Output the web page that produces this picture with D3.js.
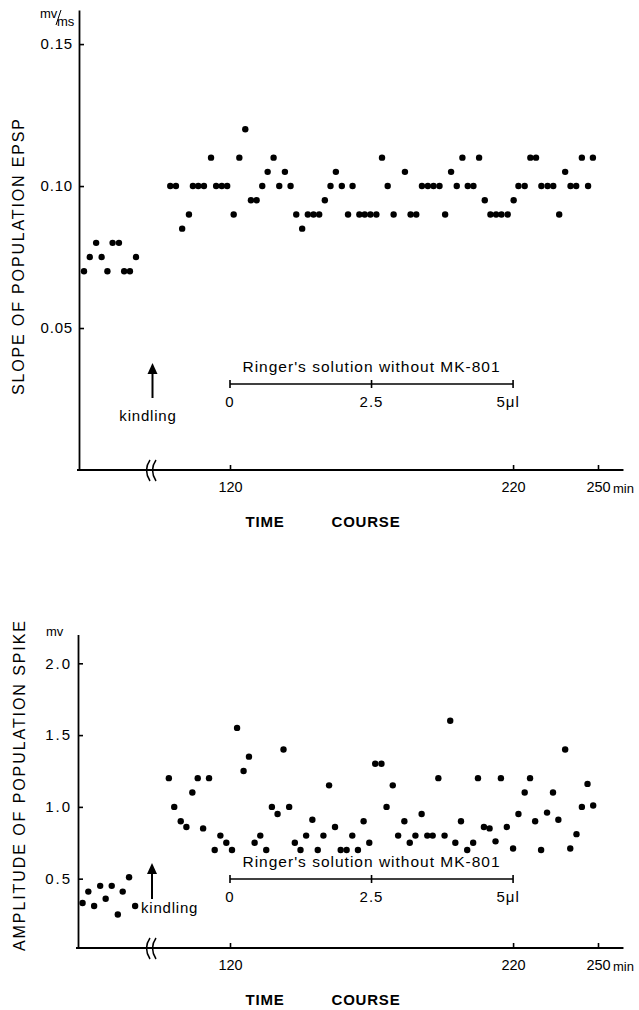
<!DOCTYPE html>
<html>
<head>
<meta charset="utf-8">
<script src="https://cdn.jsdelivr.net/npm/d3@7"></script>
<style>
  html, body { margin: 0; padding: 0; background: #fff; }
  svg { display: block; }
  text { font-family: "Liberation Sans", Arial, sans-serif; fill: #000; }
</style>
</head>
<body>
<script>
// ---- Data: slope of population EPSP (mV/ms) ----
const preTimesTop = [0, 2, 4.2, 6.1, 8.1, 9.9, 12.1, 13.9, 15.9, 18];
const preSlope    = [0.07, 0.075, 0.08, 0.075, 0.07, 0.08, 0.08, 0.07, 0.07, 0.075];

const postTimesTop = [98.9, 100.9, 103.1, 105.5, 106.9, 108.8, 110.8, 113.3, 115.1, 117.1,
  119.0, 121.3, 123.3, 125.4, 127.4, 129.4, 131.4, 133.3, 135.4, 137.4,
  139.4, 141.4, 143.4, 145.5, 147.5, 149.5, 151.5, 153.5, 155.5, 157.4,
  159.5, 161.7, 163.3, 165.7, 167.6, 169.6, 171.7, 173.7, 175.7, 177.8,
  181.8, 183.8, 185.8, 187.8, 189.9, 191.9, 194.0, 196.0, 198.1, 200.1,
  202.1, 204.0, 206.0, 208.0, 210.0, 212.0, 214.0, 215.9, 218.1, 220.2,
  221.9, 224.1, 226.1, 228.1, 230.0, 232.2, 234.2, 236.3, 238.4, 240.3,
  242.3, 244.3, 246.5, 248.2];
const postSlope = [0.10, 0.10, 0.085, 0.09, 0.10, 0.10, 0.10, 0.11, 0.10, 0.10,
  0.10, 0.09, 0.11, 0.12, 0.095, 0.095, 0.10, 0.105, 0.11, 0.10,
  0.105, 0.10, 0.09, 0.085, 0.09, 0.09, 0.09, 0.095, 0.10, 0.105,
  0.10, 0.09, 0.10, 0.09, 0.09, 0.09, 0.09, 0.11, 0.10, 0.09,
  0.105, 0.09, 0.09, 0.10, 0.10, 0.10, 0.10, 0.09, 0.105, 0.10,
  0.11, 0.10, 0.10, 0.11, 0.095, 0.09, 0.09, 0.09, 0.09, 0.095,
  0.10, 0.10, 0.11, 0.11, 0.10, 0.10, 0.10, 0.09, 0.105, 0.10,
  0.10, 0.11, 0.10, 0.11];

// ---- Data: amplitude of population spike (mV) ----
const preTimesBottom = [-0.5, 1.5, 3.5, 5.6, 7.5, 9.6, 11.7, 13.4, 15.6, 17.7];
const preAmp         = [0.33, 0.41, 0.31, 0.45, 0.36, 0.45, 0.25, 0.41, 0.51, 0.31];

const postTimesBottom = [98.4, 100.3, 102.6, 104.6, 106.7, 108.6, 110.5, 112.6, 114.6, 116.6,
  118.7, 120.7, 122.5, 124.8, 126.7, 128.7, 130.7, 132.8, 134.8, 136.8,
  138.9, 140.9, 142.9, 144.9, 146.9, 149.1, 151.0, 153.0, 155.0, 157.1,
  159.1, 161.2, 163.2, 165.2, 167.2, 169.2, 171.3, 173.5, 175.3, 177.5,
  179.4, 181.6, 183.5, 185.5, 187.7, 189.7, 191.6, 193.6, 195.8, 197.8,
  199.6, 201.6, 203.8, 205.9, 207.6, 209.7, 211.7, 213.8, 215.7, 217.8,
  220.0, 221.9, 224.1, 226.0, 227.8, 229.9, 232.0, 234.1, 236.0, 238.4,
  240.2, 242.4, 244.3, 246.3, 248.3];
const postAmp = [1.2, 1.0, 0.9, 0.86, 1.1, 1.2, 0.85, 1.2, 0.7, 0.8,
  0.75, 0.7, 1.55, 1.25, 1.35, 0.75, 0.8, 0.7, 1.0, 0.95,
  1.4, 1.0, 0.75, 0.7, 0.8, 0.91, 0.7, 0.8, 1.15, 0.86,
  0.7, 0.7, 0.8, 0.7, 0.9, 0.75, 1.3, 1.3, 1.0, 1.15,
  0.8, 0.9, 0.75, 0.8, 0.95, 0.8, 0.8, 1.2, 0.8, 1.6,
  0.75, 0.9, 0.7, 0.75, 1.2, 0.86, 0.85, 0.76, 1.2, 0.86,
  0.71, 0.95, 1.1, 1.2, 0.9, 0.7, 0.96, 1.1, 0.91, 1.4,
  0.71, 0.81, 1.0, 1.16, 1.01];

// ---- Axis ticks and annotation labels ----
const slopeTicks = [0.05, 0.10, 0.15];
const ampTicks = [0.5, 1.0, 1.5, 2.0];
const timeTicks = [120, 220, 250];
const ringerTimes = [120, 170, 220];
const ringerLabels = ["0", "2.5", "5\u03bcl"];

const W = 639, H = 1010;
const svg = d3.select("body").append("svg").attr("width", W).attr("height", H);

// shared time scales: recording before kindling, and after the axis break
const xPre = d3.scaleLinear().domain([0, 18]).range([84, 136]);
const xMain = d3.scaleLinear().domain([120, 250]).range([230, 598]);

const FONT = "Liberation Sans, Arial, sans-serif";

function panel(cfg) {
  const g = svg.append("g");
  const y = d3.scaleLinear().domain(cfg.yDomain).range([cfg.bottom, cfg.top]);
  const ax = cfg.axisX;

  // y axis
  g.append("g")
    .attr("transform", `translate(${ax},0)`)
    .call(d3.axisLeft(y).tickValues(cfg.yTicks).tickFormat(d3.format(cfg.fmt))
      .tickSizeInner(-5).tickSizeOuter(0).tickPadding(6))
    .call(s => s.select(".domain").attr("stroke", "#000").attr("stroke-width", 1.8))
    .call(s => s.selectAll(".tick line").attr("stroke", "#000").attr("stroke-width", 1.6))
    .call(s => s.selectAll(".tick text").attr("font-size", 15)
      .attr("letter-spacing", cfg.tickSpacing)
      .attr("font-family", FONT).attr("fill", "#000"));

  // x axis baseline (continuous through the break)
  g.append("line")
    .attr("x1", ax - 2).attr("x2", xMain(259))
    .attr("y1", cfg.bottom).attr("y2", cfg.bottom)
    .attr("stroke", "#000").attr("stroke-width", 1.8);

  const xa = g.append("g")
    .attr("transform", `translate(0,${cfg.bottom})`)
    .call(d3.axisBottom(xMain).tickValues(timeTicks).tickFormat(d3.format("d"))
      .tickSizeInner(-5).tickSizeOuter(0).tickPadding(12));
  xa.select(".domain").remove();
  xa.selectAll(".tick line").attr("stroke", "#000").attr("stroke-width", 1.6);
  xa.selectAll(".tick text").attr("font-size", 14.5)
    .attr("font-family", FONT).attr("fill", "#000");
  g.append("text").attr("x", xMain(250) + 15).attr("y", cfg.bottom + 22.5)
    .attr("font-size", 13).text("min");

  // axis break marks
  const bx = 146;
  [0, 6].forEach(dx => {
    g.append("path")
      .attr("d", `M${bx + dx + 4},${cfg.bottom - 10} Q${bx + dx - 3},${cfg.bottom} ${bx + dx + 4},${cfg.bottom + 11}`)
      .attr("fill", "none").attr("stroke", "#000").attr("stroke-width", 1.5);
  });

  // points
  const pre = cfg.preT.map((t, i) => ({ x: xPre(t), y: y(cfg.preV[i]) }));
  const post = cfg.postT.map((t, i) => ({ x: xMain(t), y: y(cfg.postV[i]) }));
  g.selectAll("circle.pt").data(pre.concat(post)).join("circle")
    .attr("class", "pt")
    .attr("cx", d => d.x).attr("cy", d => d.y).attr("r", 3.2)
    .attr("fill", "#000");

  // Ringer's solution application bar
  const ry = cfg.ringerY;
  g.append("text").attr("x", xMain(170)).attr("y", ry - 12)
    .attr("text-anchor", "middle").attr("font-size", 15.5).attr("letter-spacing", 1)
    .text("Ringer's solution without MK-801");
  g.append("line").attr("x1", xMain(ringerTimes[0])).attr("x2", xMain(ringerTimes[2]))
    .attr("y1", ry).attr("y2", ry).attr("stroke", "#000").attr("stroke-width", 1.6);
  g.selectAll("line.rt").data(ringerTimes).join("line").attr("class", "rt")
    .attr("x1", d => xMain(d)).attr("x2", d => xMain(d))
    .attr("y1", ry - 4).attr("y2", ry + 4).attr("stroke", "#000").attr("stroke-width", 1.6);
  g.selectAll("text.rl").data(ringerTimes).join("text").attr("class", "rl")
    .attr("x", (d, i) => xMain(d) + (i === 2 ? -5 : 0)).attr("y", ry + 23)
    .attr("text-anchor", "middle").attr("font-size", 15).attr("letter-spacing", 1)
    .text((d, i) => ringerLabels[i]);

  // kindling marker
  const k = cfg.kindling;
  g.append("line").attr("x1", k.x).attr("x2", k.x).attr("y1", k.tip + 8).attr("y2", k.end)
    .attr("stroke", "#000").attr("stroke-width", 2);
  g.append("path")
    .attr("d", `M${k.x},${k.tip} L${k.x - 5},${k.tip + 11} L${k.x + 5},${k.tip + 11} Z`)
    .attr("fill", "#000");
  g.append("text").attr("x", k.tx).attr("y", k.ty)
    .attr("text-anchor", k.anchor).attr("font-size", 15).attr("letter-spacing", 0.8)
    .text("kindling");

  // axis titles
  g.append("text")
    .attr("transform", `translate(${cfg.titleX},${cfg.titleY}) rotate(-90)`)
    .attr("text-anchor", "middle").attr("font-size", 16)
    .attr("textLength", cfg.titleLen).attr("lengthAdjust", "spacing")
    .text(cfg.title);
  g.append("text").attr("x", 265).attr("y", cfg.bottom + 57)
    .attr("text-anchor", "middle").attr("font-size", 15).attr("font-weight", 600)
    .attr("letter-spacing", 0.8).text("TIME");
  g.append("text").attr("x", 366).attr("y", cfg.bottom + 57)
    .attr("text-anchor", "middle").attr("font-size", 15).attr("font-weight", 600)
    .attr("letter-spacing", 0.8).text("COURSE");
  return g;
}

const slopePanel = panel({
  top: 10, bottom: 470, yDomain: [0, 0.162], yTicks: slopeTicks, fmt: ".2f", axisX: 79,
  tickSpacing: 0.8,
  preT: preTimesTop, preV: preSlope, postT: postTimesTop, postV: postSlope,
  ringerY: 384,
  kindling: { x: 152.5, tip: 363, end: 398, tx: 148, ty: 421, anchor: "middle" },
  title: "SLOPE OF POPULATION EPSP", titleX: 24, titleY: 257, titleLen: 276
});
// unit label mV/ms
slopePanel.append("text").attr("x", 40).attr("y", 18).attr("font-size", 13).text("mv");
slopePanel.append("line").attr("x1", 61).attr("y1", 10).attr("x2", 56).attr("y2", 25)
  .attr("stroke", "#000").attr("stroke-width", 1);
slopePanel.append("text").attr("x", 57).attr("y", 26).attr("font-size", 13).text("ms");

const ampPanel = panel({
  top: 634.6, bottom: 948, yDomain: [0.017, 2.2], yTicks: ampTicks, fmt: ".1f", axisX: 78,
  tickSpacing: 2,
  preT: preTimesBottom, preV: preAmp, postT: postTimesBottom, postV: postAmp,
  ringerY: 879,
  kindling: { x: 152, tip: 863, end: 899, tx: 141, ty: 913, anchor: "start" },
  title: "AMPLITUDE OF POPULATION SPIKE", titleX: 25, titleY: 786, titleLen: 330
});
ampPanel.append("text").attr("x", 46).attr("y", 636).attr("font-size", 13).text("mv");
</script>
</body>
</html>
